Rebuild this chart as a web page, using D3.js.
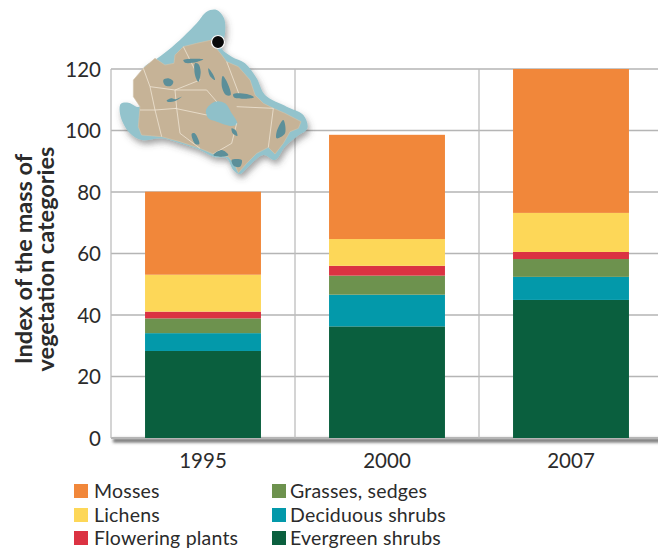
<!DOCTYPE html>
<html><head><meta charset="utf-8">
<script src="https://cdn.jsdelivr.net/npm/d3@7"></script>
<style>html,body{margin:0;padding:0;background:#fff;overflow:hidden}svg{display:block}text{font-family:Lato,"Open Sans",sans-serif;fill:#2b2b2b}</style>
</head><body><svg id="c" width="658" height="549"></svg>
<script>
const years = ["1995","2000","2007"];
const seriesNames = ["Evergreen shrubs","Deciduous shrubs","Grasses, sedges","Flowering plants","Lichens","Mosses"];
const evergreen = [28.3,36.3,44.9];
const deciduous = [5.8,10.3,7.5];
const grasses = [4.8,6.2,5.8];
const flowering = [2.2,3.2,2.3];
const lichens = [12,8.7,12.7];
const mosses = [27,33.9,46.8];
const colors = ["#0a5f3e","#0399aa","#6d924e","#db3242","#fdd758","#f1873a"];
const yTicks = [0,20,40,60,80,100,120];
const legendOrder = [["Mosses","Lichens","Flowering plants"],["Grasses, sedges","Deciduous shrubs","Evergreen shrubs"]];

// Decorative inset map outlines, in zoomed-crop units
const mapSea1 = [[165,180],[205,150],[250,110],[290,70],[320,35],[350,30],[372,55],[375,100],[365,145],[395,170],[435,190],[470,235],[495,285],[560,320],[610,345],[622,385],[590,410],[555,440],[525,480],[490,465],[445,500],[420,522],[400,510],[380,475],[340,470],[300,450],[240,430],[185,415],[125,420],[90,400],[62,350],[62,312],[85,308],[118,320],[130,205]];
const mapLand = [[165,175],[195,195],[222,190],[225,165],[250,140],[290,130],[335,120],[345,140],[365,165],[380,185],[415,200],[450,240],[465,285],[490,310],[520,325],[555,340],[603,365],[595,385],[570,395],[550,430],[525,462],[505,442],[470,460],[440,490],[415,518],[405,495],[385,470],[340,462],[300,445],[240,425],[185,410],[125,405],[115,380],[120,320],[100,290],[100,240],[130,205]];
const mapBay = [[318,330],[345,305],[375,310],[395,340],[412,372],[395,378],[350,365],[325,355]];
const mapLakes = [[[190,240],[205,235],[220,245],[212,258],[195,256]],[[200,302],[215,295],[225,298],[245,290],[225,303],[205,306]],[[368,228],[378,240],[392,285],[378,285],[366,262]],[[285,190],[295,192],[302,215],[295,245],[285,225]],[[400,282],[440,282],[462,292],[440,296],[402,292]],[[530,395],[550,360],[555,400],[530,415]],[[275,402],[284,400],[298,432],[286,432]],[[340,465],[365,450],[385,465],[360,470]],[[395,480],[425,480],[420,500],[402,498]],[[395,385],[408,392],[412,408],[398,400]],[[250,180],[280,176],[310,178],[290,186],[255,188]],[[325,205],[340,225],[345,240],[330,228]]];
const mapBorders = [[[130,205],[150,260],[165,330],[120,330]],[[165,330],[230,325],[225,270],[150,260]],[[225,325],[320,345]],[[230,325],[240,400],[300,445]],[[165,330],[185,410]],[[410,370],[395,430],[340,462]],[[410,320],[520,325]],[[520,325],[505,442]],[[225,270],[320,270],[350,305]],[[250,140],[300,240],[225,270]],[[380,185],[420,290]]];

const W = 658, H = 549;
const svg = d3.select("#c");
const defs = svg.append("defs");
const sh = defs.append("filter").attr("id","fs").attr("x","-20%").attr("y","-20%").attr("width","140%").attr("height","150%");
sh.append("feDropShadow").attr("dx",2).attr("dy",4).attr("stdDeviation",3).attr("flood-color","#444").attr("flood-opacity",0.5);
const bl = defs.append("filter").attr("id","bl");
bl.append("feGaussianBlur").attr("stdDeviation",0.5);
const bl2 = defs.append("filter").attr("id","bl2").attr("filterUnits","userSpaceOnUse").attr("x",90).attr("y",420).attr("width",600).attr("height",40);
bl2.append("feGaussianBlur").attr("stdDeviation",1.5);

const x = d3.scaleBand().domain(years).range([111,663]).paddingInner(0.37).paddingOuter(0.185);
const y = d3.scaleLinear().domain([0,120]).range([438,69]);

// shadow beneath baseline
svg.append("line").attr("x1",113).attr("x2",W+5).attr("y1",y(0)+2.5).attr("y2",y(0)+2.5)
  .attr("stroke","#6f6f6f").attr("stroke-width",4).attr("filter","url(#bl2)");

// grid
svg.append("g").selectAll("line").data(yTicks).join("line")
  .attr("x1",111).attr("x2",W).attr("y1",d=>y(d)).attr("y2",d=>y(d))
  .attr("stroke","#b5b5b5").attr("stroke-width",d=>d===0?2:1.3);
const vGrid = [...years.map(d=>x(d)-x.step()*0.185)];
svg.append("g").selectAll("line").data(vGrid).join("line")
  .attr("x1",d=>d).attr("x2",d=>d).attr("y1",y(120)).attr("y2",y(0))
  .attr("stroke","#bdbdbd").attr("stroke-width",1.3);

// bars
const rows = years.map((yr,i)=>({year:yr,v:[evergreen[i],deciduous[i],grasses[i],flowering[i],lichens[i],mosses[i]]}));
const table = rows.map(r=>{const o={year:r.year};seriesNames.forEach((n,k)=>o[n]=r.v[k]);return o;});
const stack = d3.stack().keys(seriesNames)(table);
const cg = d3.scaleOrdinal().domain(seriesNames).range(colors);
svg.append("g").selectAll("g").data(stack).join("g").attr("fill",d=>cg(d.key))
  .selectAll("rect").data(d=>d).join("rect")
  .attr("x",d=>x(d.data.year)).attr("width",x.bandwidth())
  .attr("y",d=>y(d[1])).attr("height",d=>y(d[0])-y(d[1]));

// axes text
svg.append("g").selectAll("text").data(yTicks).join("text")
  .attr("x",101).attr("y",d=>y(d)+7.5).attr("text-anchor","end").attr("font-size",20.5).text(d=>d);
svg.append("g").selectAll("text").data(years).join("text")
  .attr("x",d=>x(d)+x.bandwidth()/2).attr("y",468).attr("text-anchor","middle").attr("font-size",20.5).text(d=>d);
const yt = svg.append("text").attr("transform","translate(32,259) rotate(-90)")
  .attr("text-anchor","middle").attr("font-size",23.5).attr("font-weight",700);
yt.append("tspan").attr("x",0).attr("dy",0).text("Index of the mass of");
yt.append("tspan").attr("x",0).attr("dy",22).text("vegetation categories");

// legend
const legX = [74,272], legY = [491,515,538];
legendOrder.forEach((col,c)=>col.forEach((name,r)=>{
  svg.append("rect").attr("x",legX[c]).attr("y",legY[r]-7).attr("width",14).attr("height",14).attr("fill",cg(name));
  svg.append("text").attr("x",legX[c]+ (c?18:20)).attr("y",legY[r]+6.5).attr("font-size",19.5).attr("letter-spacing",0.2).text(name);
}));

// inset map
const mx = d=>100+d[0]/3, my = d=>d[1]/3;
const ln = d3.line().x(mx).y(my).curve(d3.curveCatmullRomClosed.alpha(0.5));
const open = d3.line().x(mx).y(my);
const m = svg.append("g");
m.append("path").attr("d",ln(mapSea1)).attr("fill","#93c3cc").attr("filter","url(#fs)");
const land = m.append("g").attr("filter","url(#bl)");
land.append("path").attr("d",open(mapLand)+"Z").attr("fill","#c6b397").attr("stroke","#d3c4ab").attr("stroke-width",0.6);
land.append("path").attr("d",ln(mapBay)).attr("fill","#8fc0c9");
land.selectAll(".bd").data(mapBorders).join("path").attr("class","bd").attr("d",d=>open(d)).attr("fill","none").attr("stroke","#efe5d4").attr("stroke-width",0.8);
land.selectAll(".lk").data(mapLakes).join("path").attr("class","lk").attr("d",d=>ln(d)).attr("fill","#5b8f99");
m.append("circle").attr("cx",218).attr("cy",42).attr("r",6.5).attr("fill","#0a0a0a").attr("stroke","#fff").attr("stroke-width",1.2);
</script></body></html>
